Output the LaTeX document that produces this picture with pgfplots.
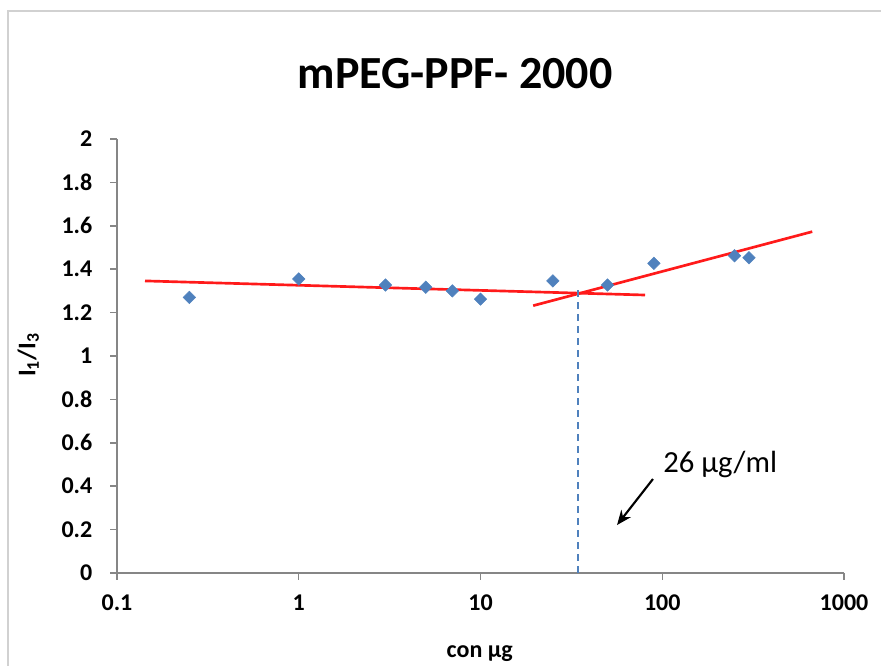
\documentclass[border=0pt]{standalone}
\usepackage{pgfplots}
\pgfplotsset{compat=1.18}
\usepackage{fontspec}
\setmainfont{Carlito}
\usetikzlibrary{arrows.meta}
\definecolor{xlblue}{HTML}{4F81BD}
\definecolor{xlaxis}{HTML}{868686}
\definecolor{xlred}{HTML}{FF1A1A}
\begin{document}
\begin{tikzpicture}
\useasboundingbox (-87.75pt,-69.75pt) rectangle (573pt,429.75pt);
\draw[color=black!18, line width=1.2pt] (-81.75pt,-70pt) -- (-81.75pt,421.5pt) -- (574pt,421.5pt);
\begin{axis}[
  at={(0,0)}, anchor=south west,
  scale only axis,
  width=545.25pt, height=325.5pt,
  xmode=log,
  xmin=0.1, xmax=1000,
  ymin=0, ymax=2,
  xtick={0.1,1,10,100,1000},
  xticklabels={0.1,1,10,100,1000},
  ytick={0,0.2,0.4,0.6,0.8,1,1.2,1.4,1.6,1.8,2},
  minor tick num=0,
  minor xtick={},
  log basis x=10,
  axis lines=left,
  axis line style={-, color=xlaxis, line width=1.1pt},
  tick style={color=xlaxis, line width=1.1pt},
  tick align=outside,
  major tick length=5pt,
  /pgf/number format/assume math mode=true,
  tick label style={font=\bfseries\fontsize{18}{20}\selectfont, color=black},
  xticklabel style={yshift=-8pt},
  yticklabel style={xshift=-10pt},
  title={mPEG-PPF- 2000},
  title style={at={(rel axis cs:0.465,1.132)}, anchor=center, font=\bfseries\fontsize{34.5}{38}\selectfont},
  xlabel={con µg},
  xlabel style={at={(rel axis cs:0.499,-0.185)}, anchor=center, font=\bfseries\fontsize{18}{20}\selectfont},
  ylabel={I\textsubscript{1}/I\textsubscript{3}},
  ylabel style={at={(rel axis cs:-0.122,0.502)}, anchor=center, rotate=0, font=\bfseries\fontsize{19}{21}\selectfont},
  clip=false,
]
% data points
\addplot[only marks, mark=square*, mark size=3.3pt, mark options={rotate=45, fill=xlblue, draw=xlblue}]
coordinates {
(0.25,1.270) (1,1.355) (3,1.327) (5,1.317) (7,1.300) (10,1.262)
(25,1.346) (50,1.327) (90,1.427) (250,1.462) (300,1.453)
};
% trend lines
\addplot[xlred, line width=2pt, no marks] coordinates {(0.1426,1.346) (80.4,1.281)};
\addplot[xlred, line width=2pt, no marks] coordinates {(19.5,1.232) (669,1.573)};
% dashed vertical line
\addplot[xlblue, line width=0.9pt, no marks, dash pattern=on 5pt off 4pt] coordinates {(34.4,0) (34.4,1.32)};
% annotation
\draw[-{Stealth[length=11pt,width=9pt]}, line width=1.6pt, black] (axis cs:88.9,0.433) -- (axis cs:56.4,0.221);
\node[anchor=west, inner sep=0pt, font=\fontsize{23}{25}\selectfont] at (axis cs:101,0.502) {26 µg/ml};
\end{axis}
\end{tikzpicture}
\end{document}
